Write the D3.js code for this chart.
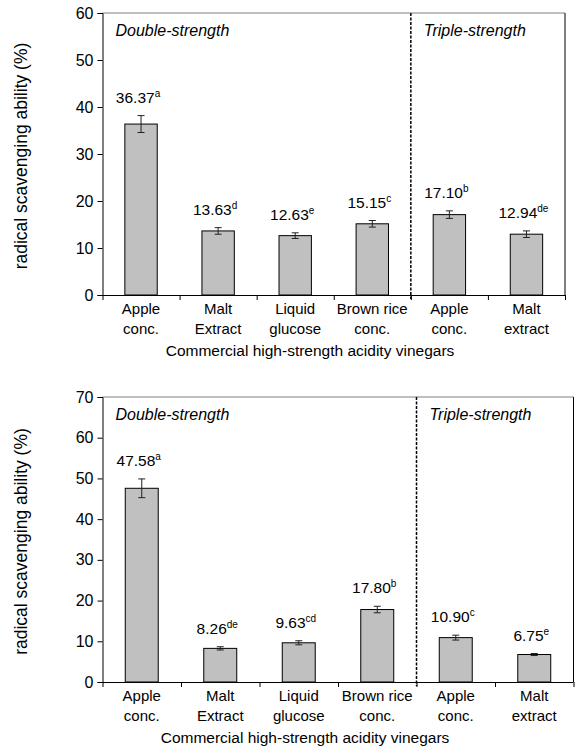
<!DOCTYPE html>
<html>
<head>
<meta charset="utf-8">
<script src="https://cdn.jsdelivr.net/npm/d3@7"></script>
<style>
  html, body { margin: 0; padding: 0; background: #fff; }
  svg { display: block; }
  text { font-family: "Liberation Sans", Arial, sans-serif; fill: #000; }
</style>
</head>
<body>
<svg id="chart" width="575" height="755"></svg>
<script>
// ---------- data ----------
const categories = [
  ["Apple", "conc."],
  ["Malt", "Extract"],
  ["Liquid", "glucose"],
  ["Brown rice", "conc."],
  ["Apple", "conc."],
  ["Malt", "extract"]
];
const topValues   = [36.37, 13.63, 12.63, 15.15, 17.10, 12.94];
const topErrors   = [1.8, 0.7, 0.6, 0.7, 0.8, 0.7];
const topLetters  = ["a", "d", "e", "c", "b", "de"];
const topTicks    = [0, 10, 20, 30, 40, 50, 60];

const botValues   = [47.58, 8.26, 9.63, 17.80, 10.90, 6.75];
const botErrors   = [2.3, 0.4, 0.5, 0.8, 0.6, 0.25];
const botLetters  = ["a", "de", "cd", "b", "c", "e"];
const botTicks    = [0, 10, 20, 30, 40, 50, 60, 70];

const groupLabels = ["Double-strength", "Triple-strength"];
const yTitle = "radical scavenging ability (%)";
const xTitle = "Commercial high-strength acidity vinegars";

// ---------- drawing ----------
const svg = d3.select("#chart");

function panel(cfg) {
  const { left, right, top, bottom, values, errors, letters, ticks, titleX } = cfg;
  const g = svg.append("g");
  const idx = d3.range(values.length);

  const x = d3.scaleBand().domain(idx).range([left, right])
    .paddingInner(0.58).paddingOuter(0.29);
  const y = d3.scaleLinear().domain([0, d3.max(ticks)]).range([bottom, top]);

  // plot border (top & right)
  g.append("line").attr("x1", left).attr("x2", right).attr("y1", top).attr("y2", top)
    .attr("stroke", "#808080").attr("stroke-width", 1.2);
  g.append("line").attr("x1", right).attr("x2", right).attr("y1", top).attr("y2", bottom)
    .attr("stroke", "#000").attr("stroke-width", 1);

  // bars
  g.selectAll("rect.bar").data(idx).join("rect")
    .attr("x", i => x(i)).attr("width", x.bandwidth())
    .attr("y", i => y(values[i])).attr("height", i => y(0) - y(values[i]))
    .attr("fill", "#c0c0c0").attr("stroke", "#000").attr("stroke-width", 1);

  // error bars
  const cx = i => x(i) + x.bandwidth() / 2;
  const eb = g.selectAll("g.err").data(idx).join("g").attr("stroke", "#222").attr("stroke-width", 1);
  eb.append("line")
    .attr("x1", cx).attr("x2", cx)
    .attr("y1", i => y(values[i] - errors[i])).attr("y2", i => y(values[i] + errors[i]));
  eb.append("line")
    .attr("x1", i => cx(i) - 3.5).attr("x2", i => cx(i) + 3.5)
    .attr("y1", i => y(values[i] + errors[i])).attr("y2", i => y(values[i] + errors[i]));
  eb.append("line")
    .attr("x1", i => cx(i) - 3.5).attr("x2", i => cx(i) + 3.5)
    .attr("y1", i => y(values[i] - errors[i])).attr("y2", i => y(values[i] - errors[i]));

  // value labels
  const lab = g.selectAll("text.val").data(idx).join("text")
    .attr("x", i => cx(i) - 3)
    .attr("y", i => y(values[i] + errors[i]) - 13)
    .attr("text-anchor", "middle")
    .style("font-size", "15.5px");
  lab.append("tspan").text(i => values[i].toFixed(2));
  lab.append("tspan").attr("dy", -6).style("font-size", "10px").text(i => letters[i]);

  // y axis
  const yAxis = d3.axisLeft(y).tickValues(ticks).tickSize(5).tickPadding(4).tickFormat(d3.format("d"));
  const ya = g.append("g").attr("transform", `translate(${left},0)`).call(yAxis);
  ya.select(".domain").attr("stroke", "#000");
  ya.selectAll(".tick line").attr("stroke", "#000");
  ya.selectAll(".tick text").style("font-size", "16px").attr("fill", "#000");

  // x axis
  const xb = d3.scaleLinear().domain([0, values.length]).range([left, right]);
  const xAxis = d3.axisBottom(xb).tickValues(d3.range(values.length + 1)).tickSize(5).tickFormat("");
  const xa = g.append("g").attr("transform", `translate(0,${bottom})`).call(xAxis);
  xa.select(".domain").attr("stroke", "#000").attr("d", `M${left},0.5H${right}`);
  xa.selectAll(".tick line").attr("stroke", "#000");

  // category labels
  const cl = g.selectAll("text.cat").data(idx).join("text")
    .attr("text-anchor", "middle").style("font-size", "15px");
  cl.append("tspan").attr("x", cx).attr("y", bottom + 19).text(i => categories[i][0]);
  cl.append("tspan").attr("x", cx).attr("y", bottom + 39).text(i => categories[i][1]);

  // dashed separator
  g.append("line").attr("x1", xb(4)).attr("x2", xb(4)).attr("y1", top).attr("y2", bottom + 4)
    .attr("stroke", "#000").attr("stroke-width", 1.5).attr("stroke-dasharray", "3,1.5");

  // group labels
  g.append("text").attr("x", left + 13).attr("y", top + 23).style("font-size", "16px")
    .style("font-style", "italic").text(groupLabels[0]);
  g.append("text").attr("x", xb(4) + 13).attr("y", top + 23).style("font-size", "16px")
    .style("font-style", "italic").text(groupLabels[1]);

  // y title
  g.append("text").attr("transform", `translate(27,${(top + bottom) / 2 + 2}) rotate(-90)`)
    .attr("text-anchor", "middle").style("font-size", "17.5px").text(yTitle);

  // x title
  g.append("text").attr("x", titleX).attr("y", bottom + 61)
    .attr("text-anchor", "middle").style("font-size", "15.5px").text(xTitle);
}

panel({ left: 102.5, right: 565, top: 13, bottom: 295,
  values: topValues, errors: topErrors, letters: topLetters, ticks: topTicks, titleX: 310 });
panel({ left: 102.5, right: 573.5, top: 397, bottom: 682,
  values: botValues, errors: botErrors, letters: botLetters, ticks: botTicks, titleX: 305 });
</script>
</body>
</html>
